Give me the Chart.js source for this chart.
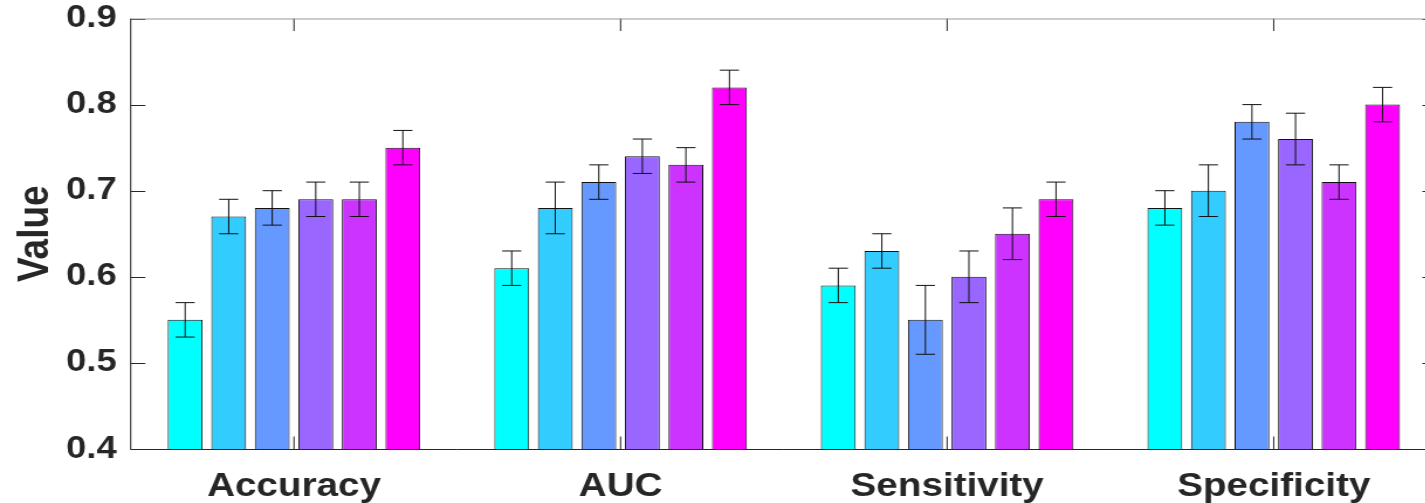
<!DOCTYPE html>
<html>
<head>
<meta charset="utf-8">
<script src="https://cdn.jsdelivr.net/npm/chart.js"></script>
<style>
    html, body { margin: 0; padding: 0; background: #fff; overflow: hidden; }
    #chart { display: block; }
</style>
</head>
<body>
<!-- the original figure is stretched sideways, so the canvas is too -->
<canvas id="chart" width="1228" height="503" style="width:1437px;height:503px"></canvas>
<script>
const categories = ['Accuracy', 'AUC', 'Sensitivity', 'Specificity'];
const seriesNames = ['Method 1', 'Method 2', 'Method 3', 'Method 4', 'Method 5', 'Method 6'];
const barColors = ['#00FFFF', '#33CCFF', '#6699FF', '#9966FF', '#CC33FF', '#FF00FF'];

// one array per method, in category order
const method1 = [0.55, 0.61, 0.59, 0.68];
const method2 = [0.67, 0.68, 0.63, 0.70];
const method3 = [0.68, 0.71, 0.55, 0.78];
const method4 = [0.69, 0.74, 0.60, 0.76];
const method5 = [0.69, 0.73, 0.65, 0.71];
const method6 = [0.75, 0.82, 0.69, 0.80];

const method1Err = [0.02, 0.02, 0.02, 0.02];
const method2Err = [0.02, 0.03, 0.02, 0.03];
const method3Err = [0.02, 0.02, 0.04, 0.02];
const method4Err = [0.02, 0.02, 0.03, 0.03];
const method5Err = [0.02, 0.02, 0.03, 0.02];
const method6Err = [0.02, 0.02, 0.02, 0.02];

const yTicks = [0.4, 0.5, 0.6, 0.7, 0.8, 0.9];

const axisColor = '#262626';
const fontFamily = "'Liberation Sans', Arial, sans-serif";
const tickLen = 12.5;

// error bars, inward tick marks and the box, drawn over the bars
const matlabAxes = {
    id: 'matlabAxes',
    afterDatasetsDraw(chart) {
        const ctx = chart.ctx;
        const area = chart.chartArea;
        const xs = chart.scales.x;
        const ys = chart.scales.y;

        ctx.save();
        ctx.lineWidth = 1;
        ctx.strokeStyle = '#111111';
        chart.data.datasets.forEach((ds, i) => {
            const meta = chart.getDatasetMeta(i);
            meta.data.forEach((bar, j) => {
                const v = ds.data[j];
                const e = ds.errors[j];
                const top = ys.getPixelForValue(v + e);
                const bot = ys.getPixelForValue(v - e);
                const half = 8.2;
                ctx.beginPath();
                ctx.moveTo(bar.x, top);
                ctx.lineTo(bar.x, bot);
                ctx.moveTo(bar.x - half, top);
                ctx.lineTo(bar.x + half, top);
                ctx.moveTo(bar.x - half, bot);
                ctx.lineTo(bar.x + half, bot);
                ctx.stroke();
            });
        });

        ctx.strokeStyle = axisColor;
        ctx.beginPath();
        yTicks.forEach((t) => {
            const py = Math.round(ys.getPixelForValue(t)) + 0.5;
            ctx.moveTo(area.left, py);
            ctx.lineTo(area.left + tickLen, py);
            ctx.moveTo(area.right, py);
            ctx.lineTo(area.right - tickLen, py);
        });
        categories.forEach((c, i) => {
            const px = xs.getPixelForValue(i);
            ctx.moveTo(px, area.bottom);
            ctx.lineTo(px, area.bottom - tickLen);
            ctx.moveTo(px, area.top);
            ctx.lineTo(px, area.top + tickLen);
        });
        ctx.stroke();

        // left and bottom edges
        ctx.beginPath();
        ctx.moveTo(area.left, area.top);
        ctx.lineTo(area.left, area.bottom + 0.5);
        ctx.lineTo(area.right, area.bottom + 0.5);
        ctx.stroke();

        // top and right edges come out lighter in the original
        ctx.strokeStyle = '#999999';
        ctx.beginPath();
        ctx.moveTo(area.left, area.top + 0.5);
        ctx.lineTo(area.right, area.top + 0.5);
        ctx.lineTo(area.right, area.bottom);
        ctx.stroke();
        ctx.restore();
    }
};

function main() {
    const values = [method1, method2, method3, method4, method5, method6];
    const errors = [method1Err, method2Err, method3Err, method4Err, method5Err, method6Err];

    const datasets = seriesNames.map((name, i) => ({
        label: name,
        data: values[i],
        errors: errors[i],
        backgroundColor: barColors[i],
        borderColor: '#111111',
        borderWidth: 1,
        categoryPercentage: 0.8,
        barPercentage: 0.8
    }));

    new Chart(document.getElementById('chart'), {
        type: 'bar',
        data: { labels: categories, datasets: datasets },
        options: {
            responsive: false,
            animation: false,
            devicePixelRatio: 1,
            layout: { padding: { top: 18.5, right: 0, bottom: 0, left: 0 } },
            plugins: {
                legend: { display: false },
                tooltip: { enabled: false }
            },
            scales: {
                x: {
                    grid: { display: false, drawTicks: false },
                    border: { display: false },
                    ticks: {
                        color: axisColor,
                        padding: 18,
                        font: { family: fontFamily, size: 33, weight: 'bold' }
                    },
                    afterFit: (scale) => {
                        scale.height = 54;
                        scale.paddingLeft = 0;
                        scale.paddingRight = 0;
                    }
                },
                y: {
                    min: 0.4,
                    max: 0.9,
                    grid: { display: false, drawTicks: false },
                    border: { display: false },
                    ticks: {
                        stepSize: 0.1,
                        color: axisColor,
                        padding: 12,
                        font: { family: fontFamily, size: 31, weight: 'bold' },
                        callback: (v) => v.toFixed(1)
                    },
                    title: {
                        display: true,
                        text: 'Value',
                        color: axisColor,
                        padding: { top: 8.5, bottom: 0 },
                        font: { family: fontFamily, size: 37, weight: 'bold' }
                    },
                    afterFit: (scale) => {
                        scale.width = 111.7;
                        scale.paddingTop = 0;
                        scale.paddingBottom = 0;
                    }
                }
            }
        },
        plugins: [matlabAxes]
    });
}

window.onload = main;
</script>
</body>
</html>
